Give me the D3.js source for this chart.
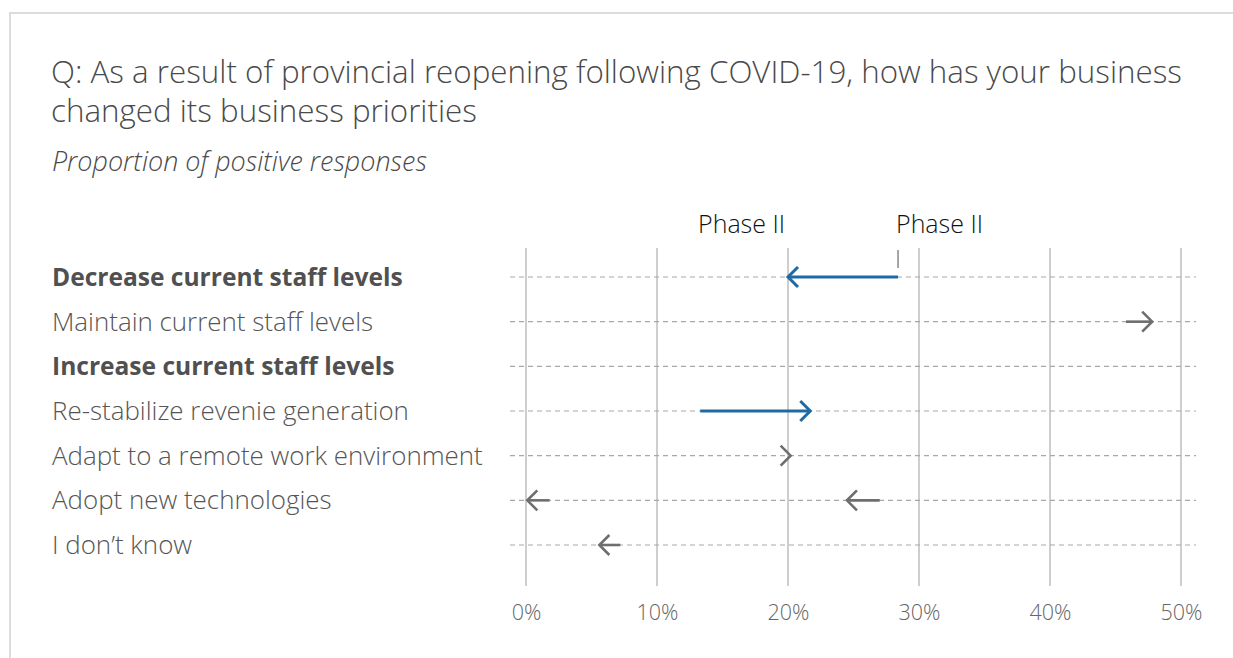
<!DOCTYPE html>
<html>
<head>
<meta charset="utf-8">
<script src="https://cdn.jsdelivr.net/npm/d3@7"></script>
<style>
  html, body { margin: 0; padding: 0; background: #fff; }
  svg { display: block; font-family: "Open Sans", Lato, sans-serif; }
</style>
</head>
<body>
<svg id="chart" width="1233" height="658"></svg>
<script>
// Response categories, top to bottom
const categories = [
  "Decrease current staff levels",
  "Maintain current staff levels",
  "Increase current staff levels",
  "Re-stabilize revenie generation",
  "Adapt to a remote work environment",
  "Adopt new technologies",
  "I don\u2019t know"
];
const boldCategories = ["Decrease current staff levels", "Increase current staff levels"];

// Change arrows: share of positive responses (%) moving from → to
const arrowCategory = ["Decrease current staff levels", "Maintain current staff levels", "Re-stabilize revenie generation", "Adapt to a remote work environment", "Adopt new technologies", "Adopt new technologies", "I don\u2019t know"];
const arrowFrom     = [28.4, 45.8, 13.3, 20.1, 1.8, 27.0, 7.2];
const arrowTo       = [20.0, 47.8, 21.7, 20.2, 0.1, 24.5, 5.6];
const arrowHighlight = [true, false, true, false, false, false, false];

// Axis ticks
const tickValues = [0, 10, 20, 30, 40, 50];
const tickLabels = ["0%", "10%", "20%", "30%", "40%", "50%"];

// Phase markers along the top
const phaseLabels = ["Phase II", "Phase II"];
const phaseValues = [20.0, 28.4];

const svg = d3.select("#chart");
const W = 1233, H = 658;

// size a text selection so that one sample string spans the given width
function fitSize(sel, sample, width, base) {
  const probe = svg.append("text")
    .attr("font-size", base)
    .attr("font-weight", sel.weight || 300)
    .attr("font-style", sel.style || "normal")
    .text(sample);
  const w = probe.node().getComputedTextLength();
  probe.remove();
  return base * width / w;
}

// frame
svg.append("path")
  .attr("d", `M10,${H} L10,13 L${W},13`)
  .attr("fill", "none").attr("stroke", "#dcdcdc").attr("stroke-width", 2);

// title & subtitle
const line1 = "Q: As a result of provincial reopening following COVID-19, how has your business";
const titleSize = fitSize({weight: 300}, line1, 1131, 28);
const title = svg.append("text").attr("fill", "#4a4a4a")
  .attr("font-size", titleSize).attr("font-weight", 300);
title.append("tspan").attr("x", 51).attr("y", 83).text(line1);
title.append("tspan").attr("x", 51).attr("y", 122).text("changed its business priorities");

const subtitle = "Proportion of positive responses";
svg.append("text").attr("x", 52).attr("y", 171)
  .attr("fill", "#4a4a4a")
  .attr("font-size", fitSize({weight: 300, style: "italic"}, subtitle, 375, 22))
  .attr("font-style", "italic").attr("font-weight", 300)
  .text(subtitle);

// scales
const x = d3.scaleLinear().domain([0, 50]).range([526, 1181]);
const y = d3.scalePoint().domain(categories).range([277, 545]);

// vertical gridlines
svg.append("g").selectAll("line").data(tickValues).join("line")
  .attr("x1", d => x(d)).attr("x2", d => x(d))
  .attr("y1", 248).attr("y2", 586)
  .attr("stroke", "#b4b4b4").attr("stroke-width", 1.3);

// dashed row guides
svg.append("g").selectAll("line").data(categories).join("line")
  .attr("x1", 510).attr("x2", 1196)
  .attr("y1", d => y(d)).attr("y2", d => y(d))
  .attr("stroke", "#a8a8a8").attr("stroke-width", 1.2)
  .attr("stroke-dasharray", "5,4");

// bottom axis labels
const tickSize = fitSize({weight: 300}, "50%", 42, 20);
const axis = d3.axisBottom(x).tickValues(tickValues)
  .tickFormat((d, i) => tickLabels[i]).tickSize(0).tickPadding(0);
const ax = svg.append("g").attr("transform", "translate(0,605)").call(axis);
ax.select(".domain").remove();
ax.selectAll("text")
  .attr("font-family", "'Open Sans', sans-serif").attr("font-size", tickSize).attr("font-weight", 300)
  .attr("fill", "#666").attr("dy", "0.71em");

// category labels
const regSize = fitSize({weight: 300}, "Adapt to a remote work environment", 431, 22);
const boldSize = fitSize({weight: 700}, "Decrease current staff levels", 351, 22);
svg.append("g").selectAll("text").data(categories).join("text")
  .attr("x", 52).attr("y", d => y(d)).attr("dy", "0.35em")
  .attr("font-size", d => boldCategories.includes(d) ? boldSize : regSize)
  .attr("font-weight", d => boldCategories.includes(d) ? 700 : 300)
  .attr("fill", d => boldCategories.includes(d) ? "#505050" : "#555")
  .text(d => d);

// phase labels and marker
const phaseSize = fitSize({weight: 300}, "Phase II", 87, 22);
svg.append("g").selectAll("text").data(phaseLabels).join("text")
  .attr("x", (d, i) => x(phaseValues[i]) + (i === 0 ? -3 : -2)).attr("y", 233)
  .attr("text-anchor", (d, i) => i === 0 ? "end" : "start")
  .attr("font-size", phaseSize).attr("font-weight", 300).attr("fill", "#111")
  .text(d => d);
svg.append("line")
  .attr("x1", x(phaseValues[1])).attr("x2", x(phaseValues[1]))
  .attr("y1", 250).attr("y2", 268)
  .attr("stroke", "#777").attr("stroke-width", 1.3);

// arrows
const arrows = arrowCategory.map((c, i) => ({
  c, from: arrowFrom[i], to: arrowTo[i], hi: arrowHighlight[i]
}));
const g = svg.append("g");
arrows.forEach(a => {
  const color = a.hi ? "#1f6aa5" : "#6e6e6e";
  const sw = a.hi ? 3 : 2.6;
  const yy = y(a.c);
  const x0 = x(a.from), x1 = x(a.to);
  const dir = x1 >= x0 ? 1 : -1;
  g.append("line")
    .attr("x1", x0).attr("x2", x1).attr("y1", yy).attr("y2", yy)
    .attr("stroke", color).attr("stroke-width", sw);
  const hw = 10, hh = 10;
  g.append("path")
    .attr("d", `M${x1 - dir * hw},${yy - hh} L${x1},${yy} L${x1 - dir * hw},${yy + hh}`)
    .attr("fill", "none").attr("stroke", color).attr("stroke-width", sw)
    .attr("stroke-linejoin", "miter");
});
</script>
</body>
</html>
